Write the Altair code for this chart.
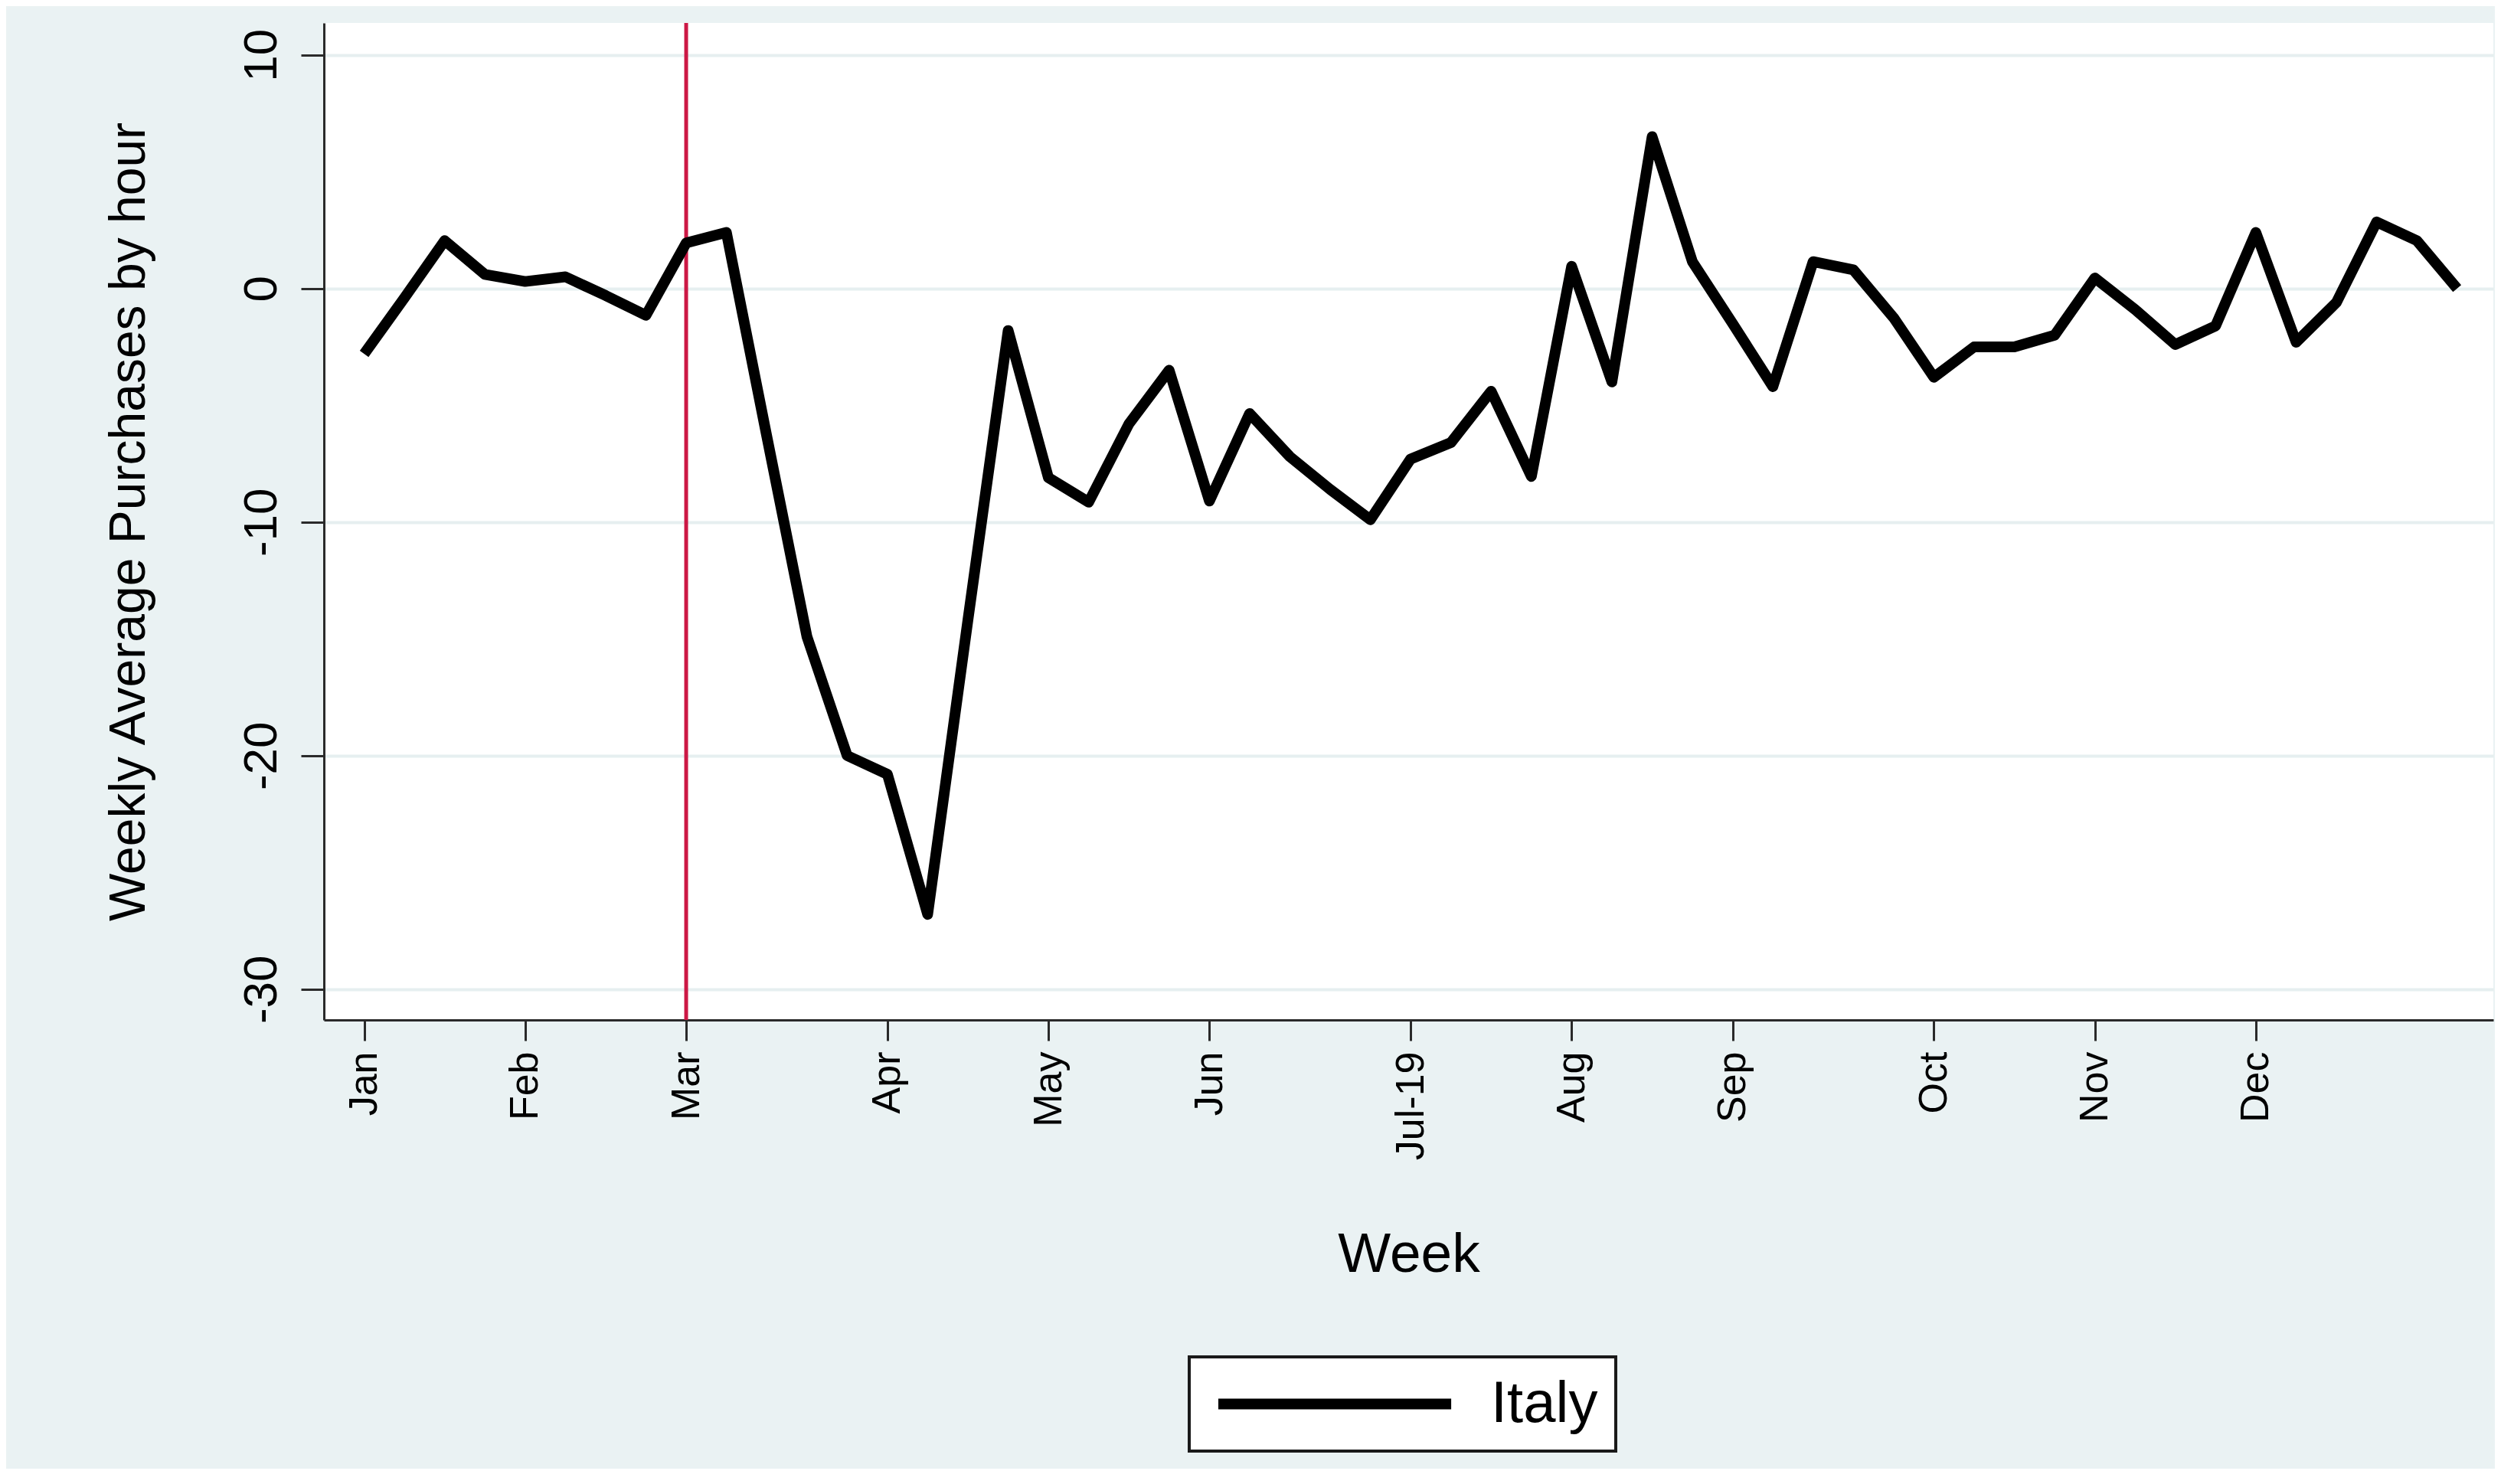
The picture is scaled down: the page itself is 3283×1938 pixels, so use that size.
import altair as alt
import pandas as pd

# ---- data ----
weeks = list(range(53))
italy = [-2.8, -0.4, 2.05, 0.6, 0.3, 0.5, -0.3, -1.15, 1.95, 2.4,
         -6.3, -14.9, -20.0, -20.8, -26.8, -14.2, -1.8, -8.1, -9.15, -5.8,
         -3.5, -9.1, -5.35, -7.2, -8.6, -9.9, -7.3, -6.6, -4.4, -8.05,
         0.95, -4.0, 6.5, 1.15, -1.5, -4.2, 1.15, 0.8, -1.25, -3.8,
         -2.5, -2.5, -2.0, 0.45, -0.9, -2.4, -1.6, 2.4, -2.3, -0.6,
         2.85, 2.05, 0.0]
tick_weeks = [0, 4, 8, 13, 17, 21, 26, 30, 34, 39, 43, 47]
tick_labels = ["Jan", "Feb", "Mar", "Apr", "May", "Jun", "Jul-19",
               "Aug", "Sep", "Oct", "Nov", "Dec"]
y_ticks = [-30, -20, -10, 0, 10]
event_week = [8]
series_name = "Italy"

df = pd.DataFrame({"week": weeks, "value": italy, "country": [series_name] * len(weeks)})
ev = pd.DataFrame({"week": event_week})

FONT = "Liberation Sans"
GREY = "#EAF2F3"

label_expr = ""
for w, lab in zip(tick_weeks, tick_labels):
    label_expr += f"datum.value == {w} ? '{lab}' : "
label_expr += "''"

x_axis = alt.Axis(
    values=tick_weeks, labelExpr=label_expr, title="Week",
    labelAngle=270, labelAlign="right", labelBaseline="middle",
    labelFont=FONT, labelFontSize=52, labelColor="black", labelPadding=14,
    tickSize=27, tickWidth=3, tickColor="#2a2a2a",
    domainColor="#2a2a2a", domainWidth=3, grid=False,
    titleFont=FONT, titleFontSize=73, titleFontWeight="normal", titleColor="black",
    titleX=1416.5, titleY=328, titleAlign="center", titleBaseline="alphabetic",
    labelOverlap=False, labelFlush=False,
)
x_enc = alt.X("week:Q", axis=x_axis,
              scale=alt.Scale(domain=[-1.0, 52.9], nice=False, zero=False))

y_axis = alt.Axis(
    values=y_ticks, labelExpr="datum.value + ''",
    title="Weekly Average Purchases by hour",
    labelAngle=270, labelAlign="center", labelBaseline="alphabetic",
    labelFont=FONT, labelFontSize=62, labelColor="black", labelPadding=33,
    tickSize=30, tickWidth=3, tickColor="#2a2a2a",
    domainColor="#2a2a2a", domainWidth=3,
    grid=True, gridColor="#E6EFF0", gridWidth=4,
    titleFont=FONT, titleFontSize=66, titleFontWeight="normal", titleColor="black",
    titleAngle=270, titleX=-235, titleY=651, titleAlign="center",
    titleBaseline="alphabetic", labelOverlap=False, labelFlush=False,
)
y_enc = alt.Y("value:Q", axis=y_axis,
              scale=alt.Scale(domain=[-31.32, 11.37], nice=False, zero=False))

rule = alt.Chart(ev).mark_rule(color="#CC1845", strokeWidth=5).encode(x=x_enc)

line = alt.Chart(df).mark_line(strokeWidth=14, strokeJoin="round", strokeCap="butt").encode(
    x=x_enc,
    y=y_enc,
    color=alt.Color(
        "country:N",
        scale=alt.Scale(range=["black"]),
        legend=alt.Legend(
            title=None, orient="none", legendX=1130, legendY=1742,
            padding=23.5, fillColor="white", strokeColor="#1a1a1a",
            symbolType="M-1,0H11.94", symbolSize=2209, symbolStrokeWidth=14,
            symbolOffset=0, labelOffset=294.5,
            labelFont=FONT, labelFontSize=76, labelColor="black", labelLimit=500,
        ),
    ),
)

chart = (
    alt.layer(rule, line)
    .properties(
        width=2833, height=1302,
        autosize=alt.AutoSizeParams(type="none"),
        padding={"left": 415, "top": 22, "right": 2, "bottom": 586},
        background=GREY,
    )
    .configure_view(fill="white", strokeWidth=0)
    .configure_legend(strokeWidth=4)
)

chart.save("out.html", embed_options={"renderer": "svg", "actions": False})
